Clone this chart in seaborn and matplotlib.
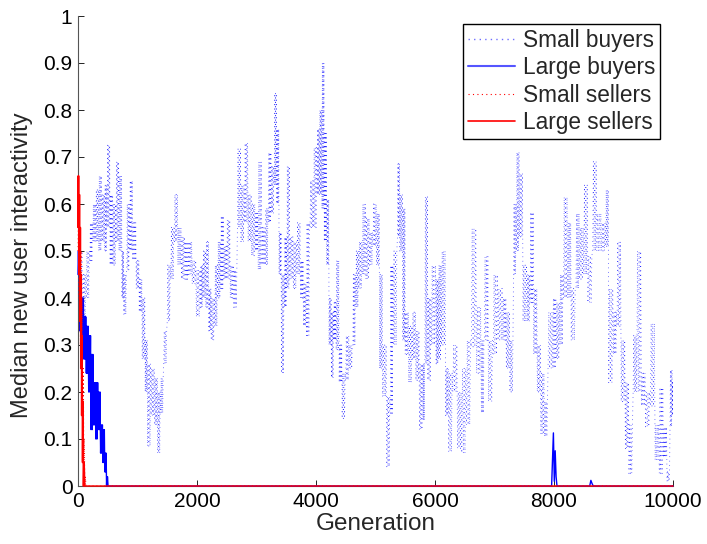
import numpy as np
import pandas as pd
import matplotlib
matplotlib.use("Agg")
import matplotlib.pyplot as plt
import seaborn as sns
from matplotlib.lines import Line2D

# ---- data: median interactivity per generation, sampled as (generation, low, high) of the band ----
small_buyers_gen = [0, 80, 140, 200, 250, 300, 350, 400, 450, 490, 540, 590, 640, 690, 740, 770, 820, 870,
                    920, 980, 1030, 1080, 1130, 1170, 1230, 1290, 1340, 1390, 1440, 1500, 1560, 1620, 1680,
                    1740, 1800, 1860, 1920, 1990, 2060,
                    2100, 2150, 2200, 2240, 2300, 2350, 2400, 2450, 2500, 2560, 2620, 2680, 2740, 2800, 2860,
                    2920, 2980, 3030, 3090, 3150, 3200, 3250, 3300, 3340, 3380, 3420, 3470, 3510, 3560, 3620,
                    3680, 3740, 3790, 3840, 3900, 3960, 4020,
                    4060, 4100, 4140, 4180, 4220, 4260, 4300, 4340, 4390, 4440, 4500, 4560, 4620, 4670, 4720,
                    4780, 4840, 4900, 4960, 5020, 5070, 5120, 5190, 5250, 5300, 5370, 5410, 5460, 5500, 5560,
                    5620, 5680, 5740, 5800, 5830, 5880, 5940, 6020,
                    6060, 6110, 6180, 6230, 6300, 6380, 6450, 6530, 6610, 6700, 6780, 6830, 6900, 6980, 7060,
                    7140, 7200, 7260, 7320, 7370, 7420, 7480, 7550, 7600, 7660, 7720, 7780, 7840, 7900, 7980,
                    8040, 8100, 8160, 8230, 8290, 8370, 8430, 8500, 8570, 8650, 8720, 8800, 8870, 8920, 9000,
                    9060, 9130, 9200, 9260, 9330, 9390, 9470, 9540, 9620, 9700, 9770, 9840, 9900, 9950, 9990]
small_buyers_lo = [0.42, 0.36, 0.40, 0.48, 0.52, 0.52, 0.50, 0.52, 0.50, 0.55, 0.47, 0.47, 0.52, 0.50, 0.40,
                   0.365, 0.46, 0.50, 0.48, 0.42, 0.37, 0.27, 0.20, 0.085, 0.15, 0.13, 0.07, 0.155, 0.26,
                   0.35, 0.44, 0.52, 0.47, 0.44, 0.44, 0.45, 0.43, 0.36, 0.38,
                   0.40, 0.38, 0.33, 0.31, 0.34, 0.40, 0.42, 0.44, 0.44, 0.40, 0.38, 0.55, 0.52, 0.56, 0.52,
                   0.49, 0.50, 0.46, 0.47, 0.47, 0.56, 0.58, 0.64, 0.60, 0.45, 0.24, 0.38, 0.42, 0.44, 0.42,
                   0.45, 0.40, 0.34, 0.32, 0.55, 0.55, 0.62,
                   0.62, 0.59, 0.52, 0.47, 0.30, 0.23, 0.31, 0.29, 0.22, 0.144, 0.225, 0.25, 0.30, 0.38, 0.42,
                   0.45, 0.44, 0.47, 0.51, 0.47, 0.25, 0.19, 0.041, 0.155, 0.30, 0.53, 0.50, 0.31, 0.28, 0.22,
                   0.27, 0.225, 0.12, 0.14, 0.26, 0.225, 0.30, 0.26,
                   0.27, 0.30, 0.15, 0.073, 0.20, 0.08, 0.07, 0.13, 0.296, 0.24, 0.155, 0.31, 0.18, 0.28, 0.31,
                   0.31, 0.25, 0.20, 0.45, 0.50, 0.53, 0.35, 0.35, 0.39, 0.28, 0.20, 0.11, 0.105, 0.25, 0.25,
                   0.27, 0.30, 0.40, 0.40, 0.31, 0.42, 0.44, 0.45, 0.39, 0.50, 0.50, 0.50, 0.51, 0.22, 0.28,
                   0.34, 0.18, 0.08, 0.027, 0.20, 0.20, 0.17, 0.126, 0.17, 0.055, 0.027, 0.06, 0.01, 0.126, 0.15]
small_buyers_hi = [0.50, 0.45, 0.50, 0.56, 0.60, 0.63, 0.66, 0.62, 0.64, 0.725, 0.62, 0.60, 0.69, 0.66, 0.50,
                   0.45, 0.60, 0.65, 0.56, 0.48, 0.44, 0.40, 0.31, 0.26, 0.25, 0.23, 0.20, 0.23, 0.33,
                   0.47, 0.55, 0.62, 0.55, 0.53, 0.52, 0.52, 0.48, 0.46, 0.47,
                   0.50, 0.52, 0.42, 0.40, 0.47, 0.52, 0.575, 0.51, 0.566, 0.47, 0.46, 0.717, 0.64, 0.73, 0.62,
                   0.60, 0.58, 0.69, 0.55, 0.59, 0.71, 0.68, 0.835, 0.76, 0.54, 0.45, 0.53, 0.68, 0.53, 0.52,
                   0.56, 0.48, 0.43, 0.56, 0.65, 0.72, 0.76,
                   0.80, 0.90, 0.75, 0.61, 0.40, 0.37, 0.39, 0.48, 0.30, 0.24, 0.32, 0.30, 0.45, 0.50, 0.52,
                   0.60, 0.57, 0.54, 0.60, 0.58, 0.45, 0.30, 0.19, 0.47, 0.50, 0.686, 0.62, 0.59, 0.37, 0.34,
                   0.37, 0.33, 0.26, 0.26, 0.615, 0.40, 0.47, 0.44,
                   0.47, 0.50, 0.25, 0.24, 0.30, 0.20, 0.25, 0.31, 0.548, 0.38, 0.31, 0.488, 0.31, 0.45, 0.42,
                   0.40, 0.37, 0.31, 0.60, 0.71, 0.665, 0.47, 0.45, 0.583, 0.42, 0.30, 0.24, 0.18, 0.37, 0.40,
                   0.39, 0.45, 0.615, 0.56, 0.42, 0.58, 0.55, 0.64, 0.49, 0.69, 0.58, 0.56, 0.63, 0.42, 0.37,
                   0.52, 0.31, 0.22, 0.13, 0.32, 0.50, 0.24, 0.20, 0.346, 0.13, 0.21, 0.126, 0.03, 0.247, 0.22]

large_buyers_gen = [0, 30, 60, 100, 140, 180, 220, 260, 300, 340, 380, 420, 450, 480]
large_buyers_lo = [0.45, 0.33, 0.30, 0.27, 0.24, 0.20, 0.12, 0.13, 0.10, 0.12, 0.07, 0.05, 0.03, 0.0]
large_buyers_hi = [0.50, 0.45, 0.40, 0.36, 0.34, 0.32, 0.28, 0.22, 0.22, 0.20, 0.13, 0.12, 0.07, 0.02]
# later bursts of large buyers around generations 8000 and 8620
large_buyers_late_gen = [7960, 7990, 8005, 8020, 8035, 8050, 8600, 8620, 8640, 8660]
large_buyers_late_val = [0.0, 0.113, 0.01, 0.075, 0.02, 0.0, 0.0, 0.012, 0.005, 0.0]

small_sellers_gen = [0, 20, 40, 60, 80, 100, 115]
small_sellers_lo = [0.50, 0.40, 0.30, 0.18, 0.08, 0.0, 0.0]
small_sellers_hi = [0.62, 0.55, 0.50, 0.40, 0.25, 0.10, 0.02]

large_sellers_gen = [0, 15, 30, 45, 60, 75, 90]
large_sellers_lo = [0.55, 0.45, 0.35, 0.25, 0.15, 0.05, 0.0]
large_sellers_hi = [0.66, 0.62, 0.55, 0.45, 0.32, 0.18, 0.05]

last_gen = 10000
x_ticks = [0, 2000, 4000, 6000, 8000, 10000]
y_ticks = [0, 0.1, 0.2, 0.3, 0.4, 0.5, 0.6, 0.7, 0.8, 0.9, 1]


def band_series(gens, lo, hi, swings=1, end=None):
    """Swing between the low and high value of each sampled band, `swings` times per interval."""
    g = np.asarray(gens, float)
    step = np.append(np.diff(g), 20.0)
    xs, ys = [], []
    for gi, st, a, b in zip(g, step, lo, hi):
        k = 2 * swings
        xs.extend(gi + st * np.arange(k) / k)
        ys.extend([a, b] * swings)
    xs, ys = np.array(xs), np.array(ys)
    if end is not None:
        xs = np.append(xs, [xs[-1] + 10, end])
        ys = np.append(ys, [0.0, 0.0])
    return xs, ys


sb_x, sb_y = band_series(small_buyers_gen, small_buyers_lo, small_buyers_hi, swings=3)
lb_x, lb_y = band_series(large_buyers_gen, large_buyers_lo, large_buyers_hi, swings=2, end=7950)
lb_x = np.concatenate([lb_x, large_buyers_late_gen, [last_gen]])
lb_y = np.concatenate([lb_y, large_buyers_late_val, [0.0]])
ss_x, ss_y = band_series(small_sellers_gen, small_sellers_lo, small_sellers_hi, end=last_gen)
ls_x, ls_y = band_series(large_sellers_gen, large_sellers_lo, large_sellers_hi, swings=2, end=last_gen)

sns.set_style("ticks")
plt.rcParams["font.family"] = ["Liberation Sans", "DejaVu Sans"]

fig = plt.figure(figsize=(7.07, 5.44), dpi=100)
ax = fig.add_axes([78 / 707, 58 / 544, 595 / 707, 470 / 544])

sns.lineplot(x=sb_x, y=sb_y, ax=ax, estimator=None, sort=False, color="blue",
             linestyle=(0, (0.8, 4.5)), linewidth=0.6, alpha=0.85, zorder=2)
sns.lineplot(x=lb_x, y=lb_y, ax=ax, estimator=None, sort=False, color="blue",
             linewidth=1.0, zorder=3, clip_on=False)
sns.lineplot(x=ss_x, y=ss_y, ax=ax, estimator=None, sort=False, color="red",
             linestyle=(0, (1, 3)), linewidth=0.7, zorder=4, clip_on=False)
sns.lineplot(x=ls_x, y=ls_y, ax=ax, estimator=None, sort=False, color="red",
             linewidth=1.0, zorder=5, clip_on=False)

ax.set_xlim(0, last_gen)
ax.set_ylim(0, 1)
ax.set_xticks(x_ticks)
ax.set_xticklabels([str(t) for t in x_ticks])
ax.set_yticks(y_ticks)
ax.set_yticklabels(["0" if t == 0 else ("1" if t == 1 else f"{t:g}") for t in y_ticks])
ax.tick_params(direction="in", length=4, width=0.6, labelsize=15, colors="black", pad=4)
sns.despine(ax=ax)
for s in ("left", "bottom"):
    ax.spines[s].set_linewidth(0.8)
    ax.spines[s].set_color("#555555")

ax.set_xlabel("Generation", fontsize=17.5, labelpad=2)
ax.set_ylabel("Median new user interactivity", fontsize=17)
ax.yaxis.set_label_coords(-0.0756, 0.47)

handles = [
    Line2D([], [], color="#6f6fff", linestyle=(0, (1, 3)), linewidth=1.0),
    Line2D([], [], color="#5555ff", linewidth=1.5),
    Line2D([], [], color="red", linestyle=(0, (1, 3)), linewidth=0.8),
    Line2D([], [], color="red", linewidth=1.2),
]
labels = ["Small buyers", "Large buyers", "Small sellers", "Large sellers"]
leg = ax.legend(handles, labels, loc="upper right", bbox_to_anchor=(0.978, 0.983),
                fontsize=16.3, frameon=True, fancybox=False, framealpha=1,
                edgecolor="black", handlelength=2.1, handletextpad=0.35,
                labelspacing=0.2, borderpad=0.2, borderaxespad=0)
leg.get_frame().set_linewidth(1.0)

fig.savefig("out.png", dpi=100)
